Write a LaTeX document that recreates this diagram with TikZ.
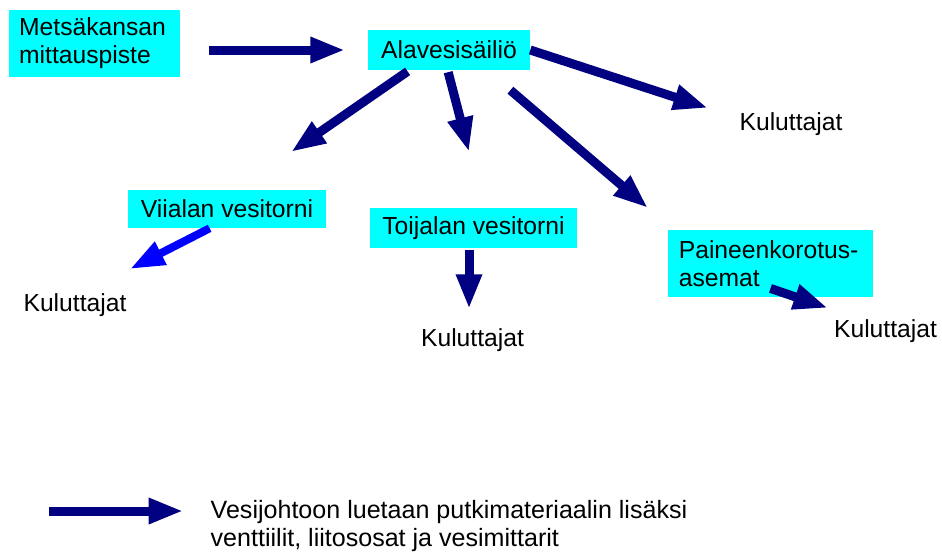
\documentclass[tikz,border=0pt]{standalone}
\usepackage{fontspec}
\setmainfont{Liberation Sans}
\usetikzlibrary{positioning}
\usetikzlibrary {arrows.meta}
\definecolor{pipenavy}{RGB}{0,0,128}
\definecolor{tankcyan}{RGB}{0,255,255}

\begin{document}
\begin{tikzpicture}[x=0.75pt,y=-0.75pt,
    every node/.style={font=\fontsize{18.5}{21}\selectfont},
    tank/.style={fill=tankcyan, inner xsep=7.5pt, inner ysep=0pt, minimum height=30pt},
    pipe/.style={color=pipenavy, line width=6.75pt, -{Triangle[length=26pt,width=18pt]}},
    ]
    \useasboundingbox (0,0) rectangle (942,553);
    %% laatikot
    \node[tank, minimum height=50pt, text width=113pt, align=left] (v1) at (94.5,43.5) {Metsäkansan\\mittauspiste};
    \node[tank, minimum width=121.5pt] (v2) at (449,50) {Alavesisäiliö};
    \node[tank, minimum width=148.5pt, minimum height=28.5pt] (v3) at (227,209) {Viialan vesitorni};
    \node[tank, minimum width=155pt] (v4) at (473.5,228) {Toijalan vesitorni};
    \node[tank, minimum height=50pt, inner xsep=8.25pt, text width=137.5pt, align=left] (v5) at (770.5,263.5) {Paineenkorotus-\\asemat};
    %% kuluttajat
    \node (k1) at (791,124) {Kuluttajat};
    \node (k2) at (75,305) {Kuluttajat};
    \node (k3) at (472.5,340) {Kuluttajat};
    \node (k4) at (885.5,331) {Kuluttajat};
    % nuolten kärjet
    \coordinate (c1) at (291,152);
    \coordinate (c2) at (469,152);
    \coordinate (c3) at (708,108);
    \coordinate (c4) at (648,208);
    \coordinate (c5) at (130,269);
    \coordinate (c6) at (469,309);
    \coordinate (c7) at (828,308);
    % nuolet
    \draw[pipe, shorten <=22pt, shorten >=17pt] (v1.east |- v2.west) -- (v2.west);
    \draw[pipe, shorten <=1.5pt] (v2.207) -- (c1);
    \draw[pipe, shorten <=1.5pt] ([xshift=-1pt]v2.south) -- (c2);
    \draw[pipe] (v2.east) -- (c3);
    \draw[pipe, shorten <=23pt] (v2.-28) -- (c4);
    \draw[pipe, color=blue, line width=6pt] (v3.228) -- (c5);
    \draw[pipe, shorten <=1.5pt] (v4.south -| c6) -- (c6);
    \draw[pipe] ([yshift=6.5pt]v5.south) -- (c7);
    %% selite
    \node[anchor=west, align=left, font=\fontsize{18.8}{21}\selectfont] (s1) at (206,526) {Vesijohtoon luetaan putkimateriaalin lisäksi\\venttiilit, liitososat ja vesimittarit};
    \coordinate (s0) at (49,511);
    \draw[pipe, shorten >=17pt] (s0) -- (s0 -| s1.west);
\end{tikzpicture}
\end{document}
